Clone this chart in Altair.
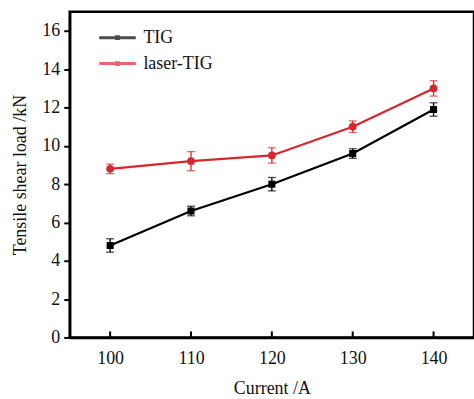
import altair as alt
import pandas as pd

currents = [100, 110, 120, 130, 140]
tig = [4.8, 6.6, 8.0, 9.6, 11.9]
tig_err = [0.35, 0.25, 0.35, 0.25, 0.35]
laser = [8.8, 9.2, 9.5, 11.0, 13.0]
laser_err = [0.25, 0.5, 0.4, 0.3, 0.4]
series = ["TIG", "laser-TIG"]
colors = ["#000000", "#d8262e"]

rows = []
for c, v, e in zip(currents, tig, tig_err):
    rows.append({"current": c, "load": v, "lo": v - e, "hi": v + e, "series": "TIG"})
for c, v, e in zip(currents, laser, laser_err):
    rows.append({"current": c, "load": v, "lo": v - e, "hi": v + e, "series": "laser-TIG"})
df = pd.DataFrame(rows)
ticks_df = pd.DataFrame({"current": currents})

FONT = "Liberation Serif"
W, H = 406, 327

xscale = alt.Scale(domain=[95, 145], nice=False, zero=False)
yscale = alt.Scale(domain=[0, 17], nice=False)
cscale = alt.Scale(domain=series, range=colors)

sym_path = "M-1.6,-0.06H1.6V0.06H-1.6Z M-0.15,-0.15H0.15V0.15H-0.15Z"

base = alt.Chart(df)

X = alt.X("current:Q", scale=xscale,
          axis=alt.Axis(title="Current /A", values=currents, grid=False, ticks=False))
Y = alt.Y("load:Q", scale=yscale,
          axis=alt.Axis(title="Tensile shear load /kN", values=list(range(0, 17, 2)),
                        grid=False, tickSize=6))

lines = base.mark_line(strokeWidth=2.2).encode(
    x=X, y=Y,
    color=alt.Color("series:N", scale=cscale, title="",
                    legend=alt.Legend(orient="none", legendX=36, legendY=14,
                                      symbolType=sym_path,
                                      symbolSize=480, symbolOpacity=1,
                                      symbolStrokeWidth=1.6,
                                      labelFont=FONT, labelFontSize=18,
                                      labelColor="#111", labelOffset=14,
                                      rowPadding=5, padding=0)),
)

xticks = alt.Chart(ticks_df).mark_rule(color="#000", strokeWidth=2).encode(
    x=X,
    y=alt.value(H),
    y2=alt.value(H - 6),
)

errs = base.mark_errorbar(ticks=alt.TickConfig(size=8, thickness=1.3), thickness=1.3).encode(
    x=X,
    y=alt.Y("lo:Q", scale=yscale, title="Tensile shear load /kN"),
    y2="hi:Q",
    color=alt.Color("series:N", scale=cscale, title=""),
)

pts_sq = base.transform_filter(alt.datum.series == "TIG").mark_point(
    filled=True, opacity=1, size=50, shape="square", color=colors[0]
).encode(x=X, y=Y)

pts_ci = base.transform_filter(alt.datum.series == "laser-TIG").mark_point(
    filled=True, opacity=1, size=60, shape="circle", color=colors[1]
).encode(x=X, y=Y)

chart = alt.layer(lines, xticks, errs, pts_sq, pts_ci).properties(
    width=W, height=H,
    autosize="none",
    background="white",
    padding={"left": 70, "top": 11, "right": 0, "bottom": 61},
).configure_view(
    stroke="#000", strokeWidth=2.5
).configure_axis(
    labelFont=FONT, labelFontSize=18, labelColor="#111",
    titleFont=FONT, titleFontSize=18, titleColor="#111", titleFontWeight="normal",
    domainColor="#000", domainWidth=2.5, tickColor="#000", tickWidth=2,
).configure_axisX(
    labelPadding=12, titlePadding=12,
).configure_axisY(
    labelPadding=4, titlePadding=12,
)

chart.save("out.html", embed_options={"renderer": "svg", "actions": False})
